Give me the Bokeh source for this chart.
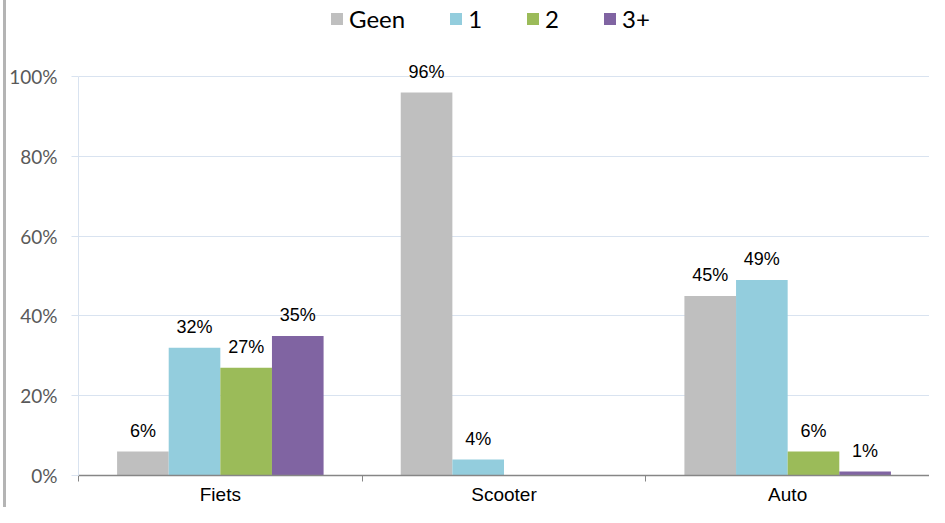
from bokeh.plotting import figure
from bokeh.models import (ColumnDataSource, FixedTicker, Legend, LegendItem, Range1d,
                          LabelSet, Div, Spacer)
from bokeh.layouts import column, row
from bokeh.embed import file_html
from bokeh.resources import INLINE
from bokeh.core.properties import value

categories = ["Fiets", "Scooter", "Auto"]
series_names = ["Geen", "1", "2", "3+"]
geen = [6, 96, 45]
een = [32, 4, 49]
twee = [27, 0, 6]
drie_plus = [35, 0, 1]
series_values = [geen, een, twee, drie_plus]
colors = ["#bfbfbf", "#93cddd", "#9bbb59", "#8064a2"]
y_ticks = [0, 20, 40, 60, 80, 100]
y_tick_labels = ["0%", "20%", "40%", "60%", "80%", "100%"]

BAR_W = 0.182
W = 923
LEG_H = 40
MAIN_H = 467

# ---- legend strip ----
lf = figure(width=W, height=LEG_H, output_backend="svg", toolbar_location=None,
            min_border=0, x_range=Range1d(0, 1), y_range=Range1d(0, 1))
lf.outline_line_color = None
lf.axis.visible = False
lf.grid.visible = False
items = []
for name, col in zip(series_names, colors):
    # glyphs placed outside the visible range; only used for the legend swatches
    r = lf.rect(x=[5], y=[5], width=1, height=1, fill_color=col, line_color=None)
    items.append(LegendItem(label=name, renderers=[r]))
legend = Legend(items=items, orientation="horizontal", location=(251, 7),
                glyph_width=15, glyph_height=15, label_standoff=5, spacing=43,
                label_width=10, padding=0, margin=0,
                label_text_font="Lato", label_text_font_size="24px", label_text_color="#000000",
                border_line_color=None, background_fill_alpha=0)
lf.add_layout(legend, "center")

# ---- main chart ----
p = figure(width=W, height=MAIN_H, output_backend="svg", toolbar_location=None,
           x_range=Range1d(0, len(categories)), y_range=Range1d(0, 104.3),
           min_border_left=70, min_border_right=0, min_border_top=19, min_border_bottom=27)
p.outline_line_color = None
p.background_fill_color = "white"
p.border_fill_color = "white"

for j, (name, vals, col) in enumerate(zip(series_names, series_values, colors)):
    xs = [i + 0.5 + (j - 1.5) * BAR_W for i in range(len(categories))]
    src = ColumnDataSource(dict(x=xs, top=vals))
    p.vbar(x="x", top="top", width=BAR_W, source=src, fill_color=col, line_color=None)
    lx = [x for x, v in zip(xs, vals) if v > 0]
    lv = [v for v in vals if v > 0]
    lsrc = ColumnDataSource(dict(x=lx, y=lv, t=[f"{v}%" for v in lv]))
    labels = LabelSet(x="x", y="y", text="t", source=lsrc, text_align="center",
                      text_baseline="alphabetic", y_offset=15,
                      text_font=value("Liberation Sans"), text_font_size=value("18px"),
                      text_color="#000000")
    p.add_layout(labels)

# x axis
p.xaxis.ticker = FixedTicker(ticks=[i + 0.5 for i in range(len(categories))],
                             minor_ticks=list(range(len(categories) + 1)))
p.xaxis.major_label_overrides = {i + 0.5: c for i, c in enumerate(categories)}
p.xaxis.major_tick_line_color = None
p.xaxis.major_tick_out = 0
p.xaxis.major_tick_in = 0
p.xaxis.minor_tick_line_color = "#868686"
p.xaxis.minor_tick_out = 6
p.xaxis.minor_tick_in = 0
p.xaxis.axis_line_color = "#868686"
p.xaxis.axis_line_width = 1.5
p.xaxis.major_label_text_font = "Liberation Sans"
p.xaxis.major_label_text_font_size = "19px"
p.xaxis.major_label_text_color = "#000000"
p.xaxis.major_label_standoff = 2

# y axis
p.yaxis.ticker = FixedTicker(ticks=y_ticks, minor_ticks=[])
p.yaxis.bounds = (0, 100)
p.yaxis.major_label_overrides = {t: l for t, l in zip(y_ticks, y_tick_labels)}
p.yaxis.axis_line_color = "#d9e3f0"
p.yaxis.major_tick_line_color = "#d9e3f0"
p.yaxis.major_tick_out = 7
p.yaxis.major_tick_in = 0
p.yaxis.major_label_standoff = 14
p.yaxis.major_label_text_font = "Lato"
p.yaxis.major_label_text_font_size = "19px"
p.yaxis.major_label_text_color = "#595959"

p.xgrid.grid_line_color = None
p.ygrid.grid_line_color = "#d9e3f0"
p.ygrid.grid_line_width = 1

edge = Div(width=3, height=LEG_H + MAIN_H, margin=0,
           styles={"background-color": "#b4b4b4"})
layout = row(Spacer(width=3, height=LEG_H + MAIN_H, margin=0), edge,
             column(lf, p, spacing=0), spacing=0)
open("out.html", "w").write(file_html(layout, INLINE))
